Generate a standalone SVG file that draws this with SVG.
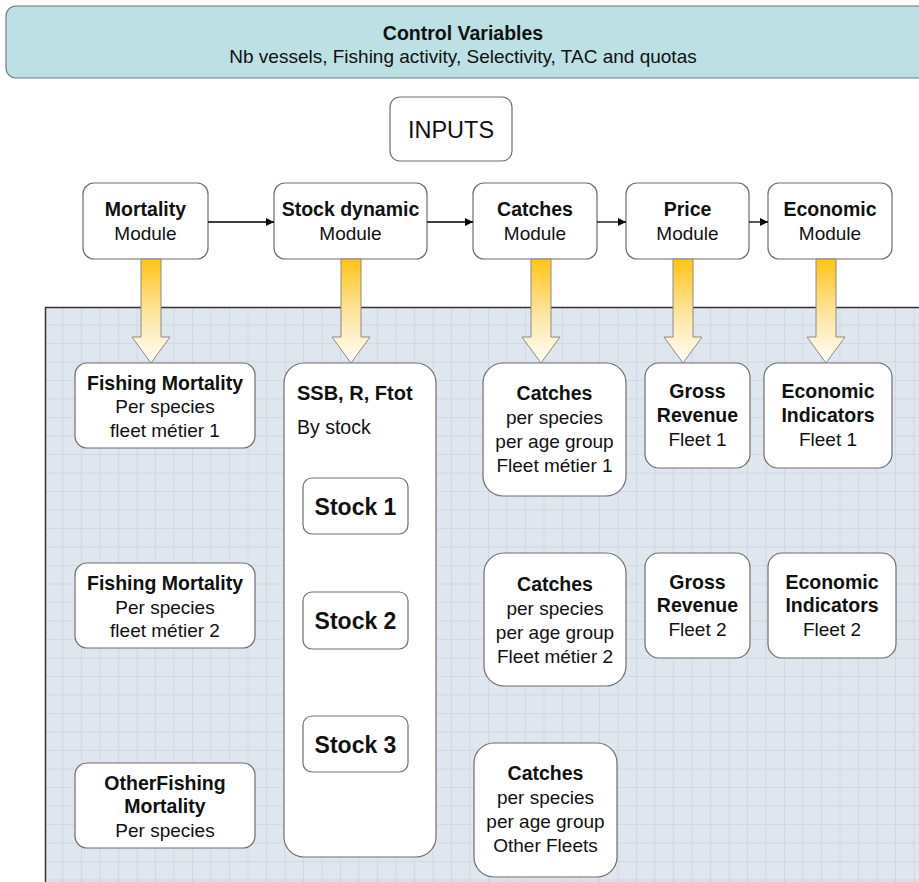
<svg xmlns="http://www.w3.org/2000/svg" width="919" height="882" viewBox="0 0 919 882">
<style>
.box{fill:#ffffff;stroke:#6e6e6e;stroke-width:1.2}
.b{font-family:"Liberation Sans",Arial,sans-serif;font-weight:bold;font-size:19.5px;text-anchor:middle;fill:#111}
.r{font-family:"Liberation Sans",Arial,sans-serif;font-size:19px;text-anchor:middle;fill:#111}
.blk{fill:url(#yg);stroke:#8a8a8a;stroke-width:1}
.ln{stroke:#000;stroke-width:1.3;fill:none;marker-end:url(#ah)}
</style>
<defs>
<pattern id="grid" patternUnits="userSpaceOnUse" x="45" y="307" width="18.5" height="18.5">
<rect width="18.5" height="18.5" fill="#e0e6ed"/>
<path d="M18.5 0V18.5M0 18.5H18.5" stroke="#bccee1" stroke-width="1" fill="none"/>
</pattern>
<linearGradient id="yg" x1="0" y1="0" x2="0" y2="1">
<stop offset="0" stop-color="#ffc414"/>
<stop offset="0.5" stop-color="#fde39a"/>
<stop offset="1" stop-color="#fffef8"/>
</linearGradient>
<marker id="ah" viewBox="0 0 10 10" refX="10" refY="5" markerWidth="8" markerHeight="8" markerUnits="userSpaceOnUse" orient="auto">
<path d="M0 0L10 5L0 10z" fill="#000"/>
</marker>
</defs>

<g id="panel">
<rect x="45" y="307" width="880" height="580" fill="url(#grid)"/>
<path d="M45.5 887V307.5H919" stroke="#333" stroke-width="1.5" fill="none"/>
</g>

<g id="control-variables">
<rect x="6" y="6" width="925" height="72" rx="10" fill="#bce0e3" stroke="#6e7a7c" stroke-width="1.2"/>
<text class="b" x="463" y="40">Control Variables</text>
<text class="r" x="463" y="63">Nb vessels, Fishing activity, Selectivity, TAC and quotas</text>
</g>

<g id="inputs">
<rect class="box" x="390" y="97" width="122" height="64" rx="10"/>
<text class="r" x="451" y="138" style="font-size:23.5px">INPUTS</text>
</g>

<g id="mortality-module">
<rect class="box" x="83" y="183" width="125" height="76" rx="11"/>
<text class="b" x="145.5" y="216">Mortality</text>
<text class="r" x="145.5" y="240">Module</text>
</g>
<g id="stock-module">
<rect class="box" x="274" y="183" width="153" height="76" rx="11"/>
<text class="b" x="350.5" y="216">Stock dynamic</text>
<text class="r" x="350.5" y="240">Module</text>
</g>
<g id="catches-module">
<rect class="box" x="473" y="183" width="124" height="76" rx="11"/>
<text class="b" x="535" y="216">Catches</text>
<text class="r" x="535" y="240">Module</text>
</g>
<g id="price-module">
<rect class="box" x="626" y="183" width="123" height="76" rx="11"/>
<text class="b" x="687.5" y="216">Price</text>
<text class="r" x="687.5" y="240">Module</text>
</g>
<g id="economic-module">
<rect class="box" x="768" y="183" width="124" height="76" rx="11"/>
<text class="b" x="830" y="216">Economic</text>
<text class="r" x="830" y="240">Module</text>
</g>

<g id="fishing-mortality-1">
<rect class="box" x="75" y="363" width="180" height="85" rx="12"/>
<text class="b" x="165" y="390">Fishing Mortality</text>
<text class="r" x="165" y="413">Per species</text>
<text class="r" x="165" y="437">fleet métier 1</text>
</g>
<g id="fishing-mortality-2">
<rect class="box" x="75" y="563" width="180" height="85" rx="12"/>
<text class="b" x="165" y="590">Fishing Mortality</text>
<text class="r" x="165" y="614">Per species</text>
<text class="r" x="165" y="637">fleet métier 2</text>
</g>
<g id="other-fishing-mortality">
<rect class="box" x="75" y="763" width="180" height="85" rx="12"/>
<text class="b" x="165" y="790">OtherFishing</text>
<text class="b" x="165" y="813">Mortality</text>
<text class="r" x="165" y="837">Per species</text>
</g>

<g id="ssb">
<rect class="box" x="284" y="363" width="152" height="494" rx="20"/>
<text class="b" x="297" y="400" style="text-anchor:start;font-size:20px">SSB, R, Ftot</text>
<text class="r" x="297" y="434" style="text-anchor:start;font-size:19.5px">By stock</text>
</g>
<g id="stock-1">
<rect class="box" x="303" y="478" width="105" height="56" rx="9"/>
<text class="b" x="355.5" y="515" style="font-size:23px">Stock 1</text>
</g>
<g id="stock-2">
<rect class="box" x="303" y="592" width="105" height="57" rx="9"/>
<text class="b" x="355.5" y="629" style="font-size:23px">Stock 2</text>
</g>
<g id="stock-3">
<rect class="box" x="303" y="716" width="105" height="56" rx="9"/>
<text class="b" x="355.5" y="753" style="font-size:23px">Stock 3</text>
</g>

<g id="catches-1">
<rect class="box" x="483" y="363" width="143" height="133" rx="20"/>
<text class="b" x="554.5" y="400">Catches</text>
<text class="r" x="554.5" y="424">per species</text>
<text class="r" x="554.5" y="448">per age group</text>
<text class="r" x="554.5" y="472">Fleet métier 1</text>
</g>
<g id="catches-2">
<rect class="box" x="484" y="553" width="142" height="133" rx="20"/>
<text class="b" x="555" y="591">Catches</text>
<text class="r" x="555" y="615">per species</text>
<text class="r" x="555" y="639">per age group</text>
<text class="r" x="555" y="663">Fleet métier 2</text>
</g>
<g id="catches-other">
<rect class="box" x="474" y="743" width="143" height="134" rx="20"/>
<text class="b" x="545.5" y="780">Catches</text>
<text class="r" x="545.5" y="804">per species</text>
<text class="r" x="545.5" y="828">per age group</text>
<text class="r" x="545.5" y="852">Other Fleets</text>
</g>

<g id="gross-revenue-1">
<rect class="box" x="645" y="363" width="105" height="105" rx="14"/>
<text class="b" x="697.5" y="398">Gross</text>
<text class="b" x="697.5" y="422">Revenue</text>
<text class="r" x="697.5" y="446">Fleet 1</text>
</g>
<g id="gross-revenue-2">
<rect class="box" x="645" y="553" width="105" height="105" rx="14"/>
<text class="b" x="697.5" y="589">Gross</text>
<text class="b" x="697.5" y="612">Revenue</text>
<text class="r" x="697.5" y="636">Fleet 2</text>
</g>
<g id="economic-indicators-1">
<rect class="box" x="764" y="363" width="128" height="105" rx="14"/>
<text class="b" x="828" y="398">Economic</text>
<text class="b" x="828" y="422">Indicators</text>
<text class="r" x="828" y="446">Fleet 1</text>
</g>
<g id="economic-indicators-2">
<rect class="box" x="768" y="553" width="128" height="105" rx="14"/>
<text class="b" x="832" y="589">Economic</text>
<text class="b" x="832" y="612">Indicators</text>
<text class="r" x="832" y="636">Fleet 2</text>
</g>

<g id="connectors">
<line class="ln" x1="208" y1="222" x2="274" y2="222"/>
<line class="ln" x1="427" y1="222" x2="473" y2="222"/>
<line class="ln" x1="597" y1="222" x2="626" y2="222"/>
<line class="ln" x1="749" y1="222" x2="768" y2="222"/>
<path class="blk" d="M141 259H161V337H170L151 363L132 337H141Z"/>
<path class="blk" d="M341 259H361V337H370L351 363L332 337H341Z"/>
<path class="blk" d="M531 259H551V337H560L541 363L522 337H531Z"/>
<path class="blk" d="M673 259H693V337H702L683 363L664 337H673Z"/>
<path class="blk" d="M816 259H836V337H845L826 363L807 337H816Z"/>
</g>
</svg>
